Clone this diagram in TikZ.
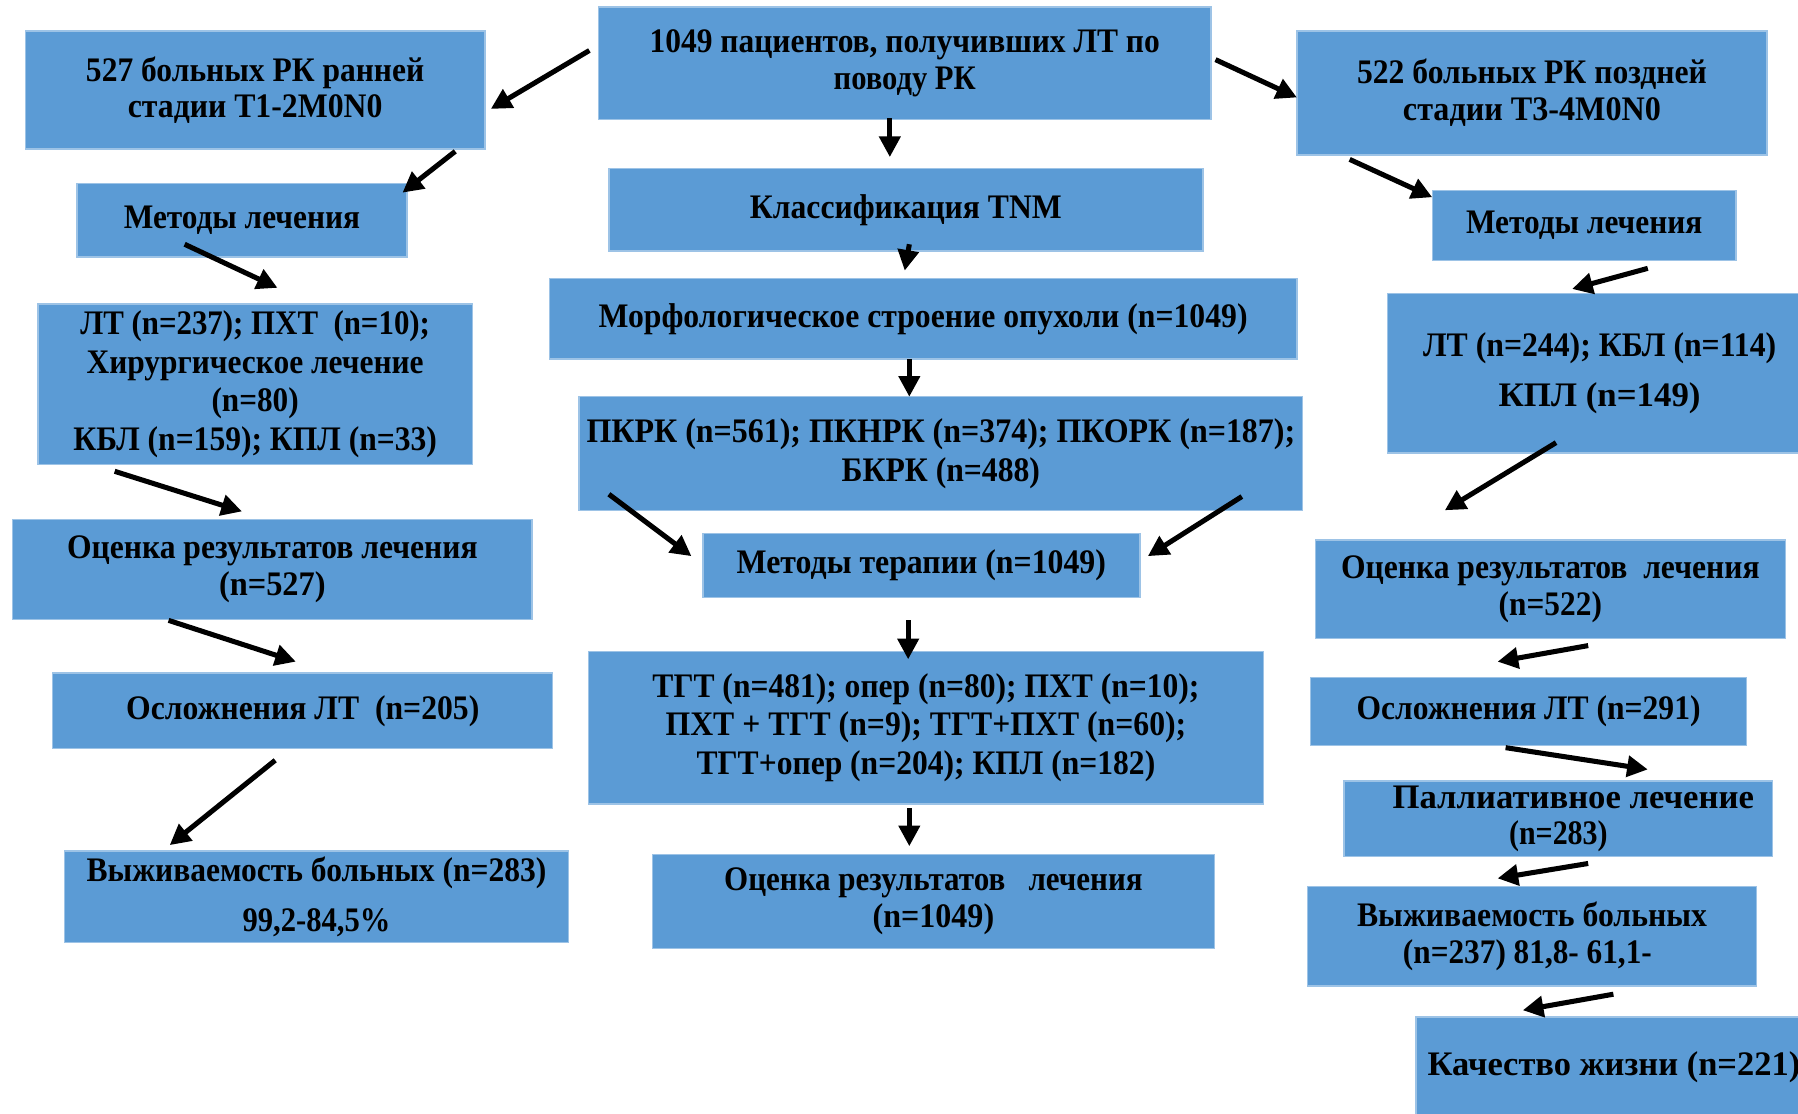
\documentclass[tikz,border=0pt]{standalone}
\usepackage{fontspec}
\setmainfont{Liberation Serif}
\usepackage{graphicx}
\usetikzlibrary{arrows.meta}
\newlength\pxu
\setlength\pxu{0.5pt}
\newcommand\fw[2]{\resizebox{#1\pxu}{\height}{#2}}
\definecolor{boxblue}{HTML}{5B9BD5}
\definecolor{boxedge}{HTML}{9DC3E6}
\begin{document}
\begin{tikzpicture}[x=0.5pt,y=-0.5pt,
  box/.style={fill=boxblue,draw=boxedge,line width=0.6pt,inner sep=0pt,outer sep=0pt,
    align=center,font=\bfseries\fontsize{15}{16}\selectfont},
  bx/.style n args={4}{box,at={({(#1+#3)/2},{(#2+#4)/2})},
    minimum width={(#3-#1)*0.5pt},minimum height={(#4-#2)*0.5pt}},
  arr/.style={line width=2.2pt,-{Triangle[length=9pt,width=9pt]}}]
\useasboundingbox (0,0) rectangle (1568,971);
\fill[white] (0,0) rectangle (1568,971);
\clip (0,0) rectangle (1568,971);
% centre column
\node[bx={522}{6}{1056}{104}] (top) {\fw{445}{1049 пациентов, получивших ЛТ по}\\\fw{124}{поводу РК}};
\node[bx={531}{147}{1049}{219}] (cls) {\fw{272}{Классификация TNM}};
\node[bx={479}{243}{1131}{313}] (morph) {\fw{566}{Морфологическое строение опухоли (n=1049)}};
\node[bx={505}{346}{1136}{445}] (pkrk) {\fw{618}{ПКРК (n=561); ПКНРК (n=374); ПКОРК (n=187);}\\[1pt]\fw{173}{БКРК (n=488)}};
\node[bx={613}{465}{994}{521}] (mt) {\fw{322}{Методы терапии (n=1049)}};
\node[bx={513}{568}{1102}{701}] (tgt) {\fw{477}{ТГТ (n=481); опер (n=80); ПХТ (n=10);}\\[0.8pt]\fw{454}{ПХТ + ТГТ (n=9); ТГТ+ПХТ (n=60);}\\[0.8pt]\fw{400}{ТГТ+опер (n=204); КПЛ (n=182)}};
\node[bx={569}{745}{1059}{827}] (cev) {\fw{365}{Оценка результатов \ \ лечения}\\\fw{106}{(n=1049)}};
% left column
\node[bx={22}{27}{423}{130}] (l1) {\fw{295}{527 больных РК ранней}\\\fw{222}{стадии T1-2M0N0}};
\node[bx={67}{160}{355}{224}] (lm) {\fw{206}{Методы лечения}};
\node[bx={33}{265}{412}{405}] (llt) {\fw{305}{ЛТ (n=237); ПХТ \ (n=10);}\\[0.85pt]\fw{294}{Хирургическое лечение}\\[0.85pt]\fw{76}{(n=80)}\\[0.85pt]\fw{317}{КБЛ (n=159); КПЛ (n=33)}};
\node[bx={11}{453}{464}{540}] (lev) {\fw{358}{Оценка результатов лечения}\\\fw{93}{(n=527)}};
\node[bx={46}{587}{482}{653}] (lcomp) {\fw{308}{Осложнения ЛТ \ (n=205)}};
\node[bx={56}{742}{496}{822}] (lsurv) {\fw{401}{Выживаемость больных (n=283)}\\[5.5pt]\fw{129}{99,2-84,5\%}};
% right column
\node[bx={1131}{27}{1541}{135}] (r1) {\fw{305}{522 больных РК поздней}\\\fw{225}{стадии T3-4M0N0}};
\node[bx={1249}{166}{1514}{227}] (rm) {\fw{206}{Методы лечения}};
\node[bx={1210}{256}{1580}{395}] (rlt) {\fw{308}{ЛТ (n=244); КБЛ (n=114)}\\[5.5pt]\fw{176}{КПЛ (n=149)}};
\node[bx={1147}{471}{1557}{557}] (rev) {\fw{365}{Оценка результатов \ лечения}\\\fw{90}{(n=522)}};
\node[bx={1143}{591}{1523}{650}] (rcomp) {\fw{300}{Осложнения ЛТ (n=291)}};
\node[bx={1172}{681}{1546}{747}] (pal) {\hspace*{26\pxu}\fw{315}{Паллиативное лечение}\\\fw{86}{(n=283)}};
\node[bx={1140}{773}{1532}{860}] (rsurv) {\fw{305}{Выживаемость больных}\\\hspace*{-8\pxu}\fw{217}{(n=237) 81,8- 61,1-}};
\node[bx={1235}{887}{1580}{975}] (qol) {\fw{325}{Качество жизни (n=221)}};
% connector end points
\coordinate (a1s) at (514,44);   \coordinate (a1e) at (428,95);
\coordinate (a2s) at (1060,52);  \coordinate (a2e) at (1131,85);
\coordinate (a3s) at (776,103);  \coordinate (a3e) at (776,137);
\coordinate (a4s) at (793,213);  \coordinate (a4e) at (789,236);
\coordinate (a5s) at (793,313);  \coordinate (a5e) at (793,346);
\coordinate (a6s) at (531,431);  \coordinate (a6e) at (603,485);
\coordinate (a7s) at (1083,433); \coordinate (a7e) at (1001,485);
\coordinate (a8s) at (792,541);  \coordinate (a8e) at (792,575);
\coordinate (a9s) at (793,705);  \coordinate (a9e) at (793,738);
\coordinate (b1s) at (397,132);  \coordinate (b1e) at (351,168);
\coordinate (b2s) at (161,213);  \coordinate (b2e) at (242,251);
\coordinate (b3s) at (100,411);  \coordinate (b3e) at (211,446);
\coordinate (b4s) at (147,541);  \coordinate (b4e) at (258,577);
\coordinate (b5s) at (240,663);  \coordinate (b5e) at (148,737);
\coordinate (c1s) at (1177,139); \coordinate (c1e) at (1249,172);
\coordinate (c2s) at (1437,234); \coordinate (c2e) at (1371,252);
\coordinate (c3s) at (1357,386); \coordinate (c3e) at (1260,445);
\coordinate (c4s) at (1385,563); \coordinate (c4e) at (1306,577);
\coordinate (c5s) at (1313,652); \coordinate (c5e) at (1437,671);
\coordinate (c6s) at (1385,753); \coordinate (c6e) at (1306,766);
\coordinate (c7s) at (1407,867); \coordinate (c7e) at (1328,881);
\foreach \a in {a1,a2,a3,a4,a5,a6,a7,a8,a9,b1,b2,b3,b4,b5,c1,c2,c3,c4,c5,c6,c7}
  \draw[arr] (\a s) -- (\a e);
\end{tikzpicture}
\end{document}
